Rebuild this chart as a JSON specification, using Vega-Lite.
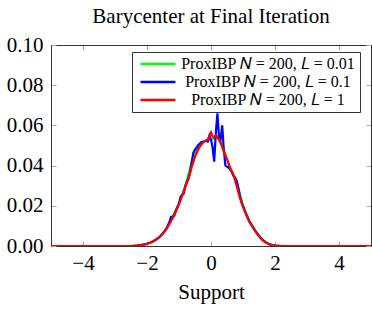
{
  "$schema": "https://vega.github.io/schema/vega-lite/v6.json",
  "width": 320,
  "height": 201,
  "autosize": "none",
  "padding": {"left": 51, "top": 45, "right": 1, "bottom": 66},
  "background": "white",
  "title": {"text": "Barycenter at Final Iteration", "font": "Liberation Serif", "fontSize": 21, "fontWeight": "normal", "color": "#000", "offset": 7, "anchor": "middle", "frame": "group"},
  "config": {
    "view": {"stroke": "#333", "strokeWidth": 1},
    "axis": {"labelFont": "Liberation Serif", "titleFont": "Liberation Serif", "labelColor": "#000", "titleColor": "#000", "grid": false, "domainColor": "#333", "tickColor": "#aaa", "tickSize": -5, "labelFontSize": 21, "titleFontSize": 21, "titleFontWeight": "normal"}
  },
  "data": {"values": [
    {"x": -5, "y": 0, "s": "ProxIBP 𝑁 = 200, 𝐿 = 0.01"},
    {"x": -2.5, "y": 0, "s": "ProxIBP 𝑁 = 200, 𝐿 = 0.01"},
    {"x": -2.2, "y": 0.0004, "s": "ProxIBP 𝑁 = 200, 𝐿 = 0.01"},
    {"x": -2.0, "y": 0.0011, "s": "ProxIBP 𝑁 = 200, 𝐿 = 0.01"},
    {"x": -1.8, "y": 0.0024, "s": "ProxIBP 𝑁 = 200, 𝐿 = 0.01"},
    {"x": -1.6, "y": 0.0046, "s": "ProxIBP 𝑁 = 200, 𝐿 = 0.01"},
    {"x": -1.4, "y": 0.0085, "s": "ProxIBP 𝑁 = 200, 𝐿 = 0.01"},
    {"x": -1.2, "y": 0.0147, "s": "ProxIBP 𝑁 = 200, 𝐿 = 0.01"},
    {"x": -1.0, "y": 0.0212, "s": "ProxIBP 𝑁 = 200, 𝐿 = 0.01"},
    {"x": -0.8, "y": 0.0300, "s": "ProxIBP 𝑁 = 200, 𝐿 = 0.01"},
    {"x": -0.6, "y": 0.0420, "s": "ProxIBP 𝑁 = 200, 𝐿 = 0.01"},
    {"x": -0.4, "y": 0.0502, "s": "ProxIBP 𝑁 = 200, 𝐿 = 0.01"},
    {"x": -0.2, "y": 0.0520, "s": "ProxIBP 𝑁 = 200, 𝐿 = 0.01"},
    {"x": 0.0, "y": 0.0530, "s": "ProxIBP 𝑁 = 200, 𝐿 = 0.01"},
    {"x": 0.2, "y": 0.0540, "s": "ProxIBP 𝑁 = 200, 𝐿 = 0.01"},
    {"x": 0.4, "y": 0.0480, "s": "ProxIBP 𝑁 = 200, 𝐿 = 0.01"},
    {"x": 0.6, "y": 0.0380, "s": "ProxIBP 𝑁 = 200, 𝐿 = 0.01"},
    {"x": 0.8, "y": 0.0325, "s": "ProxIBP 𝑁 = 200, 𝐿 = 0.01"},
    {"x": 1.0, "y": 0.0200, "s": "ProxIBP 𝑁 = 200, 𝐿 = 0.01"},
    {"x": 1.2, "y": 0.0123, "s": "ProxIBP 𝑁 = 200, 𝐿 = 0.01"},
    {"x": 1.4, "y": 0.0072, "s": "ProxIBP 𝑁 = 200, 𝐿 = 0.01"},
    {"x": 1.6, "y": 0.0032, "s": "ProxIBP 𝑁 = 200, 𝐿 = 0.01"},
    {"x": 1.8, "y": 0.0010, "s": "ProxIBP 𝑁 = 200, 𝐿 = 0.01"},
    {"x": 2.0, "y": 0.0002, "s": "ProxIBP 𝑁 = 200, 𝐿 = 0.01"},
    {"x": 2.2, "y": 0, "s": "ProxIBP 𝑁 = 200, 𝐿 = 0.01"},
    {"x": 5, "y": 0, "s": "ProxIBP 𝑁 = 200, 𝐿 = 0.01"},

    {"x": -5, "y": 0, "s": "ProxIBP 𝑁 = 200, 𝐿 = 0.1"},
    {"x": -2.5, "y": 0, "s": "ProxIBP 𝑁 = 200, 𝐿 = 0.1"},
    {"x": -2.4, "y": 0.0001, "s": "ProxIBP 𝑁 = 200, 𝐿 = 0.1"},
    {"x": -2.3, "y": 0.0002, "s": "ProxIBP 𝑁 = 200, 𝐿 = 0.1"},
    {"x": -2.2, "y": 0.0004, "s": "ProxIBP 𝑁 = 200, 𝐿 = 0.1"},
    {"x": -2.1, "y": 0.0007, "s": "ProxIBP 𝑁 = 200, 𝐿 = 0.1"},
    {"x": -2.0, "y": 0.0011, "s": "ProxIBP 𝑁 = 200, 𝐿 = 0.1"},
    {"x": -1.9, "y": 0.0016, "s": "ProxIBP 𝑁 = 200, 𝐿 = 0.1"},
    {"x": -1.8, "y": 0.0024, "s": "ProxIBP 𝑁 = 200, 𝐿 = 0.1"},
    {"x": -1.7, "y": 0.0034, "s": "ProxIBP 𝑁 = 200, 𝐿 = 0.1"},
    {"x": -1.6, "y": 0.0046, "s": "ProxIBP 𝑁 = 200, 𝐿 = 0.1"},
    {"x": -1.5, "y": 0.0063, "s": "ProxIBP 𝑁 = 200, 𝐿 = 0.1"},
    {"x": -1.4, "y": 0.0085, "s": "ProxIBP 𝑁 = 200, 𝐿 = 0.1"},
    {"x": -1.3, "y": 0.0118, "s": "ProxIBP 𝑁 = 200, 𝐿 = 0.1"},
    {"x": -1.25, "y": 0.0145, "s": "ProxIBP 𝑁 = 200, 𝐿 = 0.1"},
    {"x": -1.2, "y": 0.0147, "s": "ProxIBP 𝑁 = 200, 𝐿 = 0.1"},
    {"x": -1.15, "y": 0.0150, "s": "ProxIBP 𝑁 = 200, 𝐿 = 0.1"},
    {"x": -1.1, "y": 0.0175, "s": "ProxIBP 𝑁 = 200, 𝐿 = 0.1"},
    {"x": -1.0, "y": 0.0212, "s": "ProxIBP 𝑁 = 200, 𝐿 = 0.1"},
    {"x": -0.95, "y": 0.0245, "s": "ProxIBP 𝑁 = 200, 𝐿 = 0.1"},
    {"x": -0.9, "y": 0.0255, "s": "ProxIBP 𝑁 = 200, 𝐿 = 0.1"},
    {"x": -0.85, "y": 0.0262, "s": "ProxIBP 𝑁 = 200, 𝐿 = 0.1"},
    {"x": -0.8, "y": 0.0300, "s": "ProxIBP 𝑁 = 200, 𝐿 = 0.1"},
    {"x": -0.75, "y": 0.0320, "s": "ProxIBP 𝑁 = 200, 𝐿 = 0.1"},
    {"x": -0.7, "y": 0.0340, "s": "ProxIBP 𝑁 = 200, 𝐿 = 0.1"},
    {"x": -0.65, "y": 0.0370, "s": "ProxIBP 𝑁 = 200, 𝐿 = 0.1"},
    {"x": -0.6, "y": 0.0420, "s": "ProxIBP 𝑁 = 200, 𝐿 = 0.1"},
    {"x": -0.55, "y": 0.0465, "s": "ProxIBP 𝑁 = 200, 𝐿 = 0.1"},
    {"x": -0.5, "y": 0.0480, "s": "ProxIBP 𝑁 = 200, 𝐿 = 0.1"},
    {"x": -0.45, "y": 0.0490, "s": "ProxIBP 𝑁 = 200, 𝐿 = 0.1"},
    {"x": -0.4, "y": 0.0502, "s": "ProxIBP 𝑁 = 200, 𝐿 = 0.1"},
    {"x": -0.35, "y": 0.0510, "s": "ProxIBP 𝑁 = 200, 𝐿 = 0.1"},
    {"x": -0.3, "y": 0.0518, "s": "ProxIBP 𝑁 = 200, 𝐿 = 0.1"},
    {"x": -0.25, "y": 0.0520, "s": "ProxIBP 𝑁 = 200, 𝐿 = 0.1"},
    {"x": -0.2, "y": 0.0520, "s": "ProxIBP 𝑁 = 200, 𝐿 = 0.1"},
    {"x": -0.15, "y": 0.0525, "s": "ProxIBP 𝑁 = 200, 𝐿 = 0.1"},
    {"x": -0.1, "y": 0.0520, "s": "ProxIBP 𝑁 = 200, 𝐿 = 0.1"},
    {"x": -0.05, "y": 0.0550, "s": "ProxIBP 𝑁 = 200, 𝐿 = 0.1"},
    {"x": 0.0, "y": 0.0530, "s": "ProxIBP 𝑁 = 200, 𝐿 = 0.1"},
    {"x": 0.05, "y": 0.0490, "s": "ProxIBP 𝑁 = 200, 𝐿 = 0.1"},
    {"x": 0.1, "y": 0.0420, "s": "ProxIBP 𝑁 = 200, 𝐿 = 0.1"},
    {"x": 0.15, "y": 0.0560, "s": "ProxIBP 𝑁 = 200, 𝐿 = 0.1"},
    {"x": 0.2, "y": 0.0660, "s": "ProxIBP 𝑁 = 200, 𝐿 = 0.1"},
    {"x": 0.25, "y": 0.0545, "s": "ProxIBP 𝑁 = 200, 𝐿 = 0.1"},
    {"x": 0.3, "y": 0.0530, "s": "ProxIBP 𝑁 = 200, 𝐿 = 0.1"},
    {"x": 0.35, "y": 0.0600, "s": "ProxIBP 𝑁 = 200, 𝐿 = 0.1"},
    {"x": 0.4, "y": 0.0480, "s": "ProxIBP 𝑁 = 200, 𝐿 = 0.1"},
    {"x": 0.45, "y": 0.0400, "s": "ProxIBP 𝑁 = 200, 𝐿 = 0.1"},
    {"x": 0.5, "y": 0.0395, "s": "ProxIBP 𝑁 = 200, 𝐿 = 0.1"},
    {"x": 0.55, "y": 0.0390, "s": "ProxIBP 𝑁 = 200, 𝐿 = 0.1"},
    {"x": 0.6, "y": 0.0380, "s": "ProxIBP 𝑁 = 200, 𝐿 = 0.1"},
    {"x": 0.65, "y": 0.0370, "s": "ProxIBP 𝑁 = 200, 𝐿 = 0.1"},
    {"x": 0.7, "y": 0.0350, "s": "ProxIBP 𝑁 = 200, 𝐿 = 0.1"},
    {"x": 0.75, "y": 0.0340, "s": "ProxIBP 𝑁 = 200, 𝐿 = 0.1"},
    {"x": 0.8, "y": 0.0325, "s": "ProxIBP 𝑁 = 200, 𝐿 = 0.1"},
    {"x": 0.85, "y": 0.0290, "s": "ProxIBP 𝑁 = 200, 𝐿 = 0.1"},
    {"x": 0.9, "y": 0.0250, "s": "ProxIBP 𝑁 = 200, 𝐿 = 0.1"},
    {"x": 0.95, "y": 0.0220, "s": "ProxIBP 𝑁 = 200, 𝐿 = 0.1"},
    {"x": 1.0, "y": 0.0200, "s": "ProxIBP 𝑁 = 200, 𝐿 = 0.1"},
    {"x": 1.1, "y": 0.0158, "s": "ProxIBP 𝑁 = 200, 𝐿 = 0.1"},
    {"x": 1.2, "y": 0.0123, "s": "ProxIBP 𝑁 = 200, 𝐿 = 0.1"},
    {"x": 1.3, "y": 0.0097, "s": "ProxIBP 𝑁 = 200, 𝐿 = 0.1"},
    {"x": 1.4, "y": 0.0072, "s": "ProxIBP 𝑁 = 200, 𝐿 = 0.1"},
    {"x": 1.5, "y": 0.0050, "s": "ProxIBP 𝑁 = 200, 𝐿 = 0.1"},
    {"x": 1.6, "y": 0.0032, "s": "ProxIBP 𝑁 = 200, 𝐿 = 0.1"},
    {"x": 1.7, "y": 0.0019, "s": "ProxIBP 𝑁 = 200, 𝐿 = 0.1"},
    {"x": 1.8, "y": 0.0010, "s": "ProxIBP 𝑁 = 200, 𝐿 = 0.1"},
    {"x": 1.9, "y": 0.0005, "s": "ProxIBP 𝑁 = 200, 𝐿 = 0.1"},
    {"x": 2.0, "y": 0.0002, "s": "ProxIBP 𝑁 = 200, 𝐿 = 0.1"},
    {"x": 2.1, "y": 0.0001, "s": "ProxIBP 𝑁 = 200, 𝐿 = 0.1"},
    {"x": 2.2, "y": 0, "s": "ProxIBP 𝑁 = 200, 𝐿 = 0.1"},
    {"x": 5, "y": 0, "s": "ProxIBP 𝑁 = 200, 𝐿 = 0.1"},

    {"x": -5, "y": 0, "s": "ProxIBP 𝑁 = 200, 𝐿 = 1"},
    {"x": -2.5, "y": 0, "s": "ProxIBP 𝑁 = 200, 𝐿 = 1"},
    {"x": -2.4, "y": 0.0001, "s": "ProxIBP 𝑁 = 200, 𝐿 = 1"},
    {"x": -2.3, "y": 0.0002, "s": "ProxIBP 𝑁 = 200, 𝐿 = 1"},
    {"x": -2.2, "y": 0.0004, "s": "ProxIBP 𝑁 = 200, 𝐿 = 1"},
    {"x": -2.1, "y": 0.0007, "s": "ProxIBP 𝑁 = 200, 𝐿 = 1"},
    {"x": -2.0, "y": 0.0011, "s": "ProxIBP 𝑁 = 200, 𝐿 = 1"},
    {"x": -1.9, "y": 0.0016, "s": "ProxIBP 𝑁 = 200, 𝐿 = 1"},
    {"x": -1.8, "y": 0.0023, "s": "ProxIBP 𝑁 = 200, 𝐿 = 1"},
    {"x": -1.7, "y": 0.0033, "s": "ProxIBP 𝑁 = 200, 𝐿 = 1"},
    {"x": -1.6, "y": 0.0046, "s": "ProxIBP 𝑁 = 200, 𝐿 = 1"},
    {"x": -1.5, "y": 0.0062, "s": "ProxIBP 𝑁 = 200, 𝐿 = 1"},
    {"x": -1.4, "y": 0.0082, "s": "ProxIBP 𝑁 = 200, 𝐿 = 1"},
    {"x": -1.3, "y": 0.0108, "s": "ProxIBP 𝑁 = 200, 𝐿 = 1"},
    {"x": -1.2, "y": 0.0138, "s": "ProxIBP 𝑁 = 200, 𝐿 = 1"},
    {"x": -1.1, "y": 0.0172, "s": "ProxIBP 𝑁 = 200, 𝐿 = 1"},
    {"x": -1.0, "y": 0.0208, "s": "ProxIBP 𝑁 = 200, 𝐿 = 1"},
    {"x": -0.9, "y": 0.0250, "s": "ProxIBP 𝑁 = 200, 𝐿 = 1"},
    {"x": -0.8, "y": 0.0295, "s": "ProxIBP 𝑁 = 200, 𝐿 = 1"},
    {"x": -0.7, "y": 0.0335, "s": "ProxIBP 𝑁 = 200, 𝐿 = 1"},
    {"x": -0.6, "y": 0.0395, "s": "ProxIBP 𝑁 = 200, 𝐿 = 1"},
    {"x": -0.5, "y": 0.0445, "s": "ProxIBP 𝑁 = 200, 𝐿 = 1"},
    {"x": -0.4, "y": 0.0480, "s": "ProxIBP 𝑁 = 200, 𝐿 = 1"},
    {"x": -0.3, "y": 0.0505, "s": "ProxIBP 𝑁 = 200, 𝐿 = 1"},
    {"x": -0.2, "y": 0.0522, "s": "ProxIBP 𝑁 = 200, 𝐿 = 1"},
    {"x": -0.1, "y": 0.0530, "s": "ProxIBP 𝑁 = 200, 𝐿 = 1"},
    {"x": -0.05, "y": 0.0545, "s": "ProxIBP 𝑁 = 200, 𝐿 = 1"},
    {"x": 0.0, "y": 0.0565, "s": "ProxIBP 𝑁 = 200, 𝐿 = 1"},
    {"x": 0.05, "y": 0.0545, "s": "ProxIBP 𝑁 = 200, 𝐿 = 1"},
    {"x": 0.1, "y": 0.0540, "s": "ProxIBP 𝑁 = 200, 𝐿 = 1"},
    {"x": 0.15, "y": 0.0550, "s": "ProxIBP 𝑁 = 200, 𝐿 = 1"},
    {"x": 0.2, "y": 0.0545, "s": "ProxIBP 𝑁 = 200, 𝐿 = 1"},
    {"x": 0.3, "y": 0.0515, "s": "ProxIBP 𝑁 = 200, 𝐿 = 1"},
    {"x": 0.4, "y": 0.0470, "s": "ProxIBP 𝑁 = 200, 𝐿 = 1"},
    {"x": 0.5, "y": 0.0432, "s": "ProxIBP 𝑁 = 200, 𝐿 = 1"},
    {"x": 0.6, "y": 0.0390, "s": "ProxIBP 𝑁 = 200, 𝐿 = 1"},
    {"x": 0.7, "y": 0.0355, "s": "ProxIBP 𝑁 = 200, 𝐿 = 1"},
    {"x": 0.8, "y": 0.0300, "s": "ProxIBP 𝑁 = 200, 𝐿 = 1"},
    {"x": 0.9, "y": 0.0240, "s": "ProxIBP 𝑁 = 200, 𝐿 = 1"},
    {"x": 1.0, "y": 0.0195, "s": "ProxIBP 𝑁 = 200, 𝐿 = 1"},
    {"x": 1.1, "y": 0.0155, "s": "ProxIBP 𝑁 = 200, 𝐿 = 1"},
    {"x": 1.2, "y": 0.0120, "s": "ProxIBP 𝑁 = 200, 𝐿 = 1"},
    {"x": 1.3, "y": 0.0095, "s": "ProxIBP 𝑁 = 200, 𝐿 = 1"},
    {"x": 1.4, "y": 0.0070, "s": "ProxIBP 𝑁 = 200, 𝐿 = 1"},
    {"x": 1.5, "y": 0.0048, "s": "ProxIBP 𝑁 = 200, 𝐿 = 1"},
    {"x": 1.6, "y": 0.0030, "s": "ProxIBP 𝑁 = 200, 𝐿 = 1"},
    {"x": 1.7, "y": 0.0018, "s": "ProxIBP 𝑁 = 200, 𝐿 = 1"},
    {"x": 1.8, "y": 0.0010, "s": "ProxIBP 𝑁 = 200, 𝐿 = 1"},
    {"x": 1.9, "y": 0.0005, "s": "ProxIBP 𝑁 = 200, 𝐿 = 1"},
    {"x": 2.0, "y": 0.0002, "s": "ProxIBP 𝑁 = 200, 𝐿 = 1"},
    {"x": 2.1, "y": 0.0001, "s": "ProxIBP 𝑁 = 200, 𝐿 = 1"},
    {"x": 2.2, "y": 0, "s": "ProxIBP 𝑁 = 200, 𝐿 = 1"},
    {"x": 5, "y": 0, "s": "ProxIBP 𝑁 = 200, 𝐿 = 1"}
  ]},
  "layer": [
    {
      "mark": {"type": "line", "strokeWidth": 2.2, "clip": true},
      "encoding": {
        "x": {"field": "x", "type": "quantitative", "scale": {"domain": [-5, 5], "nice": false, "zero": false},
              "axis": {"orient": "bottom", "values": [-4, -2, 0, 2, 4], "title": "Support", "labelPadding": 11, "titlePadding": 8}},
        "y": {"field": "y", "type": "quantitative", "scale": {"domain": [0, 0.1], "nice": false},
              "axis": {"orient": "left", "values": [0, 0.02, 0.04, 0.06, 0.08, 0.1], "format": ".2f", "title": null, "labelPadding": 13}},
        "color": {"field": "s", "type": "nominal",
                  "scale": {"domain": ["ProxIBP 𝑁 = 200, 𝐿 = 0.01", "ProxIBP 𝑁 = 200, 𝐿 = 0.1", "ProxIBP 𝑁 = 200, 𝐿 = 1"], "range": ["#00ff00", "#0000ff", "#ff0000"]},
                  "legend": {"title": null, "orient": "none", "legendX": 81, "legendY": 7, "fillColor": "white", "strokeColor": "#333", "padding": 4, "symbolType": "stroke", "symbolSize": 1225, "symbolStrokeWidth": 2.5, "symbolOffset": 3, "clipHeight": 16, "labelFont": "Liberation Serif", "labelFontSize": 16, "labelColor": "#000", "labelAlign": "center", "labelOffset": 91, "labelLimit": 300, "rowPadding": 2}}
      }
    },
    {
      "mark": {"type": "line", "opacity": 0},
      "encoding": {
        "x": {"field": "x", "type": "quantitative", "axis": {"orient": "top", "values": [-4, -2, 0, 2, 4], "labels": false, "title": null}},
        "y": {"field": "y", "type": "quantitative", "axis": {"orient": "right", "values": [0, 0.02, 0.04, 0.06, 0.08, 0.1], "labels": false, "title": null}}
      }
    }
  ],
  "resolve": {"axis": {"x": "independent", "y": "independent"}}
}
